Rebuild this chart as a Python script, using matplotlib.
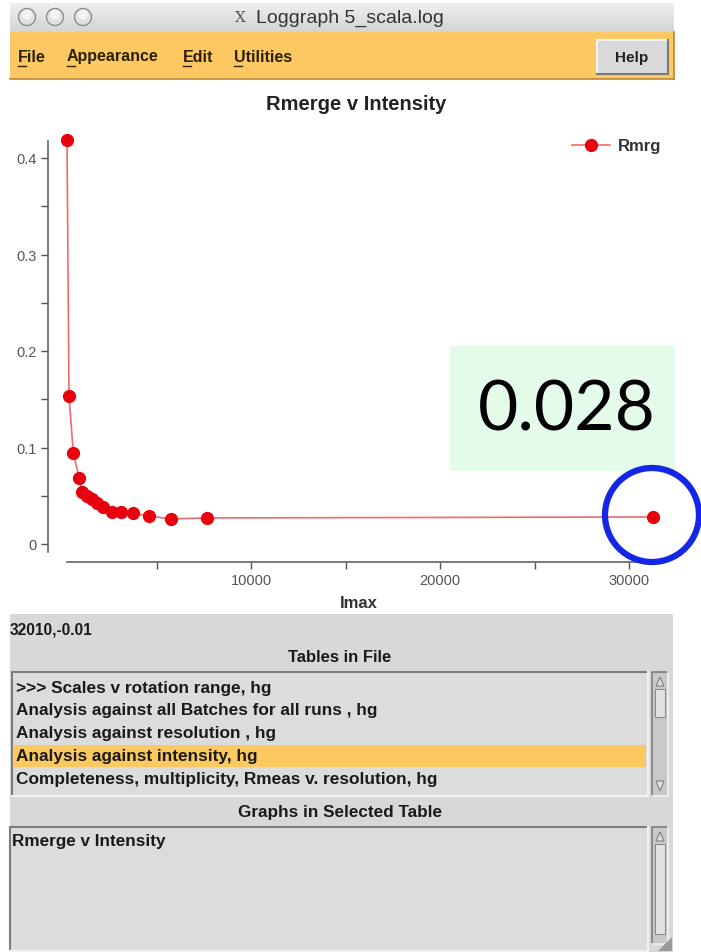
import matplotlib
matplotlib.use('Agg')
import matplotlib.pyplot as plt
import numpy as np
from matplotlib.patches import Rectangle, Circle, Polygon

# ---------------- data ----------------
imax = [265, 370, 600, 915, 1040, 1340, 1570, 1840, 2150, 2630, 3110, 3770, 4600, 5770, 7690, 31250]
rmrg = [0.419, 0.153, 0.094, 0.068, 0.054, 0.050, 0.047, 0.043, 0.038, 0.033, 0.033, 0.032, 0.029, 0.026, 0.027, 0.028]
series_label = 'Rmrg'
chart_title = 'Rmerge v Intensity'
x_label = 'Imax'
yticks_major = [0, 0.1, 0.2, 0.3, 0.4]
ytick_labels = ['0', '0.1', '0.2', '0.3', '0.4']
yticks_minor = [0.05, 0.15, 0.25, 0.35]
xticks_major = [10000, 20000, 30000]
xtick_labels = ['10000', '20000', '30000']
xticks_minor = [5000, 15000, 25000]
highlight_value = '0.028'
window_title = 'Loggraph 5_scala.log'
menu_items = ['File', 'Appearance', 'Edit', 'Utilities']
status_text = '32010,-0.01'
tables = ['>>> Scales v rotation range, hg',
          'Analysis against all Batches for all runs , hg',
          'Analysis against resolution , hg',
          'Analysis against intensity, hg',
          'Completeness, multiplicity, Rmeas v. resolution, hg']
selected_table = 3
graphs = ['Rmerge v Intensity']

W, H = 701, 953
GUI = ['Liberation Sans', 'DejaVu Sans']

fig = plt.figure(figsize=(W / 100, H / 100), dpi=100)
fig.patch.set_facecolor('white')

# background axes in pixel coordinates (y downwards)
bg = fig.add_axes([0, 0, 1, 1], zorder=0)
bg.set_xlim(0, W)
bg.set_ylim(H, 0)
bg.axis('off')

def rect(x0, y0, x1, y1, fc, ec='none', lw=0, z=1, ax=bg):
    ax.add_patch(Rectangle((x0, y0), x1 - x0, y1 - y0, facecolor=fc, edgecolor=ec, linewidth=lw, zorder=z))

# title bar gradient
grad = np.linspace(0, 1, 50).reshape(-1, 1)
bg.imshow(grad, extent=(10, 674, 33, 4), cmap=matplotlib.colors.LinearSegmentedColormap.from_list('g', ['#efefef', '#d4d4d4']),
          aspect='auto', zorder=1)
for cx in [27, 55, 83]:
    bg.add_patch(Circle((cx, 18), 8.5, facecolor='#e2e2e2', edgecolor='#8c8c8c', lw=1.0, zorder=3))
    bg.add_patch(Circle((cx, 15.5), 5, facecolor='#f4f4f4', edgecolor='none', zorder=3))
bg.text(240, 18, 'X', fontsize=11, family='DejaVu Serif', color='#555555', ha='center', va='center', zorder=3)
bg.text(256, 18, window_title, fontsize=14, family=GUI, color='#333333', ha='left', va='center', zorder=3)

# menu bar
rect(10, 33, 674, 80, '#fdc862', z=1)
bg.plot([10, 674], [79.5, 79.5], color='#b88a3a', lw=1.2, zorder=2)
bg.plot([673.5, 673.5], [33, 80], color='#b88a3a', lw=1.2, zorder=2)
menu_x = [18, 67, 183, 234]
for mx, lab in zip(menu_x, menu_items):
    bg.text(mx, 57, lab, fontsize=11.5, fontweight='bold', family=GUI, color='#2a2000', ha='left', va='center', zorder=3)
    bg.plot([mx, mx + 8], [66.5, 66.5], color='#2a2000', lw=1, zorder=3)
# help button
rect(597, 41, 668, 75, '#d9d9d9', z=2)
bg.plot([597, 597, 668], [75, 41, 41], color='#f4f4f4', lw=1.5, zorder=3)
bg.plot([597, 668, 668], [75, 75, 41], color='#7a7a7a', lw=1.5, zorder=3)
bg.text(632, 58, 'Help', fontsize=11, fontweight='bold', family=GUI, color='#222222', ha='center', va='center', zorder=4)

# chart title
bg.text(356, 104, chart_title, fontsize=14.5, fontweight='bold', family=GUI, color='#222222', ha='center', va='center', zorder=3)

# bottom panel
rect(10, 615, 673, 953, '#d8d8d8', z=1)
bg.text(10, 630, status_text, fontsize=11.2, fontweight='bold', family=GUI, color='#1a1a1a', ha='left', va='center', zorder=3)
bg.text(340, 658, 'Tables in File', fontsize=12, fontweight='bold', family=GUI, color='#1a1a1a', ha='center', va='center', zorder=3)

def listbox(x0, y0, x1, y1):
    rect(x0, y0, x1, y1, '#dcdcdc', z=2)
    bg.plot([x0, x0, x1], [y1, y0, y0], color='#7d7d7d', lw=1.5, zorder=3)
    bg.plot([x0, x1, x1], [y1, y1, y0], color='#f2f2f2', lw=1.5, zorder=3)

def scrollbar(x0, y0, x1, y1, slider=None):
    rect(x0, y0, x1, y1, '#c9c9c9', z=2)
    bg.plot([x0, x0, x1], [y1, y0, y0], color='#7d7d7d', lw=1.2, zorder=3)
    bg.plot([x0, x1, x1], [y1, y1, y0], color='#f2f2f2', lw=1.2, zorder=3)
    xc = (x0 + x1) / 2
    bg.add_patch(Polygon([[xc - 4, y0 + 14], [xc + 4, y0 + 14], [xc, y0 + 5]], closed=True,
                         facecolor='#e0e0e0', edgecolor='#808080', lw=0.8, zorder=4))
    if slider is not None:
        rect(x0 + 3, slider[0], x1 - 3, slider[1], '#e2e2e2', ec='#8a8a8a', lw=0.8, z=4)

listbox(12, 673, 648, 797)
scrollbar(652, 673, 668, 797, slider=(690, 718))
xc = 660
bg.add_patch(Polygon([[xc - 4, 782], [xc + 4, 782], [xc, 792]], closed=True,
                     facecolor='#e0e0e0', edgecolor='#808080', lw=0.8, zorder=4))
item_y = [689, 711, 734, 757, 780]
for i, (yy, lab) in enumerate(zip(item_y, tables)):
    if i == selected_table:
        rect(14, yy - 11, 646, yy + 11, '#fcc860', z=3)
    bg.text(16, yy, lab, fontsize=12.4, fontweight='bold', family=GUI, color='#1a1a1a', ha='left', va='center', zorder=4)

bg.text(340, 813, 'Graphs in Selected Table', fontsize=12.3, fontweight='bold', family=GUI, color='#1a1a1a', ha='center', va='center', zorder=3)
listbox(10, 828, 648, 952)
scrollbar(652, 828, 668, 945, slider=(845, 935))
for k, lab in enumerate(graphs):
    bg.text(12, 842 + 22 * k, lab, fontsize=12.3, fontweight='bold', family=GUI, color='#1a1a1a', ha='left', va='center', zorder=4)
# resize grip
bg.add_patch(Polygon([[672, 938], [672, 952], [658, 952]], closed=True, facecolor='#9a9a9a', edgecolor='none', zorder=4))

# ---------------- data axes ----------------
px_unit_x = 189 / 10000.0
x0_px = 62
px_unit_y = 965.0
y0_px = 545
ax_left, ax_right, ax_top, ax_bot = 48, 675, 142, 563
ax = fig.add_axes([ax_left / W, 1 - ax_bot / H, (ax_right - ax_left) / W, (ax_bot - ax_top) / H], zorder=2)
ax.patch.set_alpha(0)
ax.set_xlim((ax_left - x0_px) / px_unit_x, (ax_right - x0_px) / px_unit_x)
ax.set_ylim((y0_px - ax_bot) / px_unit_y, (y0_px - ax_top) / px_unit_y)

ax.plot(imax, rmrg, color='#f26a6a', lw=1.2, marker='o', markersize=8.5,
        markerfacecolor='#e8000f', markeredgecolor='#e8000f', label=series_label, clip_on=False, zorder=3)

for s in ['top', 'right']:
    ax.spines[s].set_visible(False)
ax.spines['left'].set_bounds(-0.0085, 0.4176)
ax.spines['bottom'].set_bounds(min(imax), max(imax))
for s in ['left', 'bottom']:
    ax.spines[s].set_color('#555555')
    ax.spines[s].set_linewidth(1.1)

ax.set_yticks(yticks_major)
ax.set_yticklabels(ytick_labels)
ax.set_yticks(yticks_minor, minor=True)
ax.set_xticks(xticks_major)
ax.set_xticklabels(xtick_labels)
ax.set_xticks(xticks_minor, minor=True)
ax.tick_params(which='both', direction='out', color='#555555', width=1.0, length=5,
               labelsize=10.5, labelcolor='#555555', pad=3)
for lab in ax.get_xticklabels() + ax.get_yticklabels():
    lab.set_family(GUI)

ax.set_xlabel(x_label, fontsize=12, fontweight='bold', family=GUI, color='#333333')
ax.xaxis.set_label_coords((359 - ax_left) / (ax_right - ax_left), -(596 - ax_bot) / (ax_bot - ax_top))

leg = ax.legend(loc='center left', bbox_to_anchor=(572 / W, 1 - 147 / H), bbox_transform=fig.transFigure,
                frameon=False, handlelength=2.3, handletextpad=0.45, borderpad=0, borderaxespad=0,
                prop={'family': GUI, 'weight': 'bold', 'size': 12})
for t in leg.get_texts():
    t.set_color('#333333')

# ---------------- overlay annotations ----------------
ov = fig.add_axes([0, 0, 1, 1], zorder=5)
ov.set_xlim(0, W)
ov.set_ylim(H, 0)
ov.axis('off')
ov.patch.set_alpha(0)
ov.add_patch(Rectangle((450, 347), 225, 125, facecolor='#e3fbe8', edgecolor='none', zorder=1))
ov.text(567, 411, highlight_value, fontsize=50, family=['Lato', 'DejaVu Sans'], color='black',
        ha='center', va='center', zorder=2)
ov.add_patch(Circle((652, 516), 47, facecolor='none', edgecolor='#1426e6', lw=4.5, zorder=3))

fig.savefig('out.png', dpi=100)
